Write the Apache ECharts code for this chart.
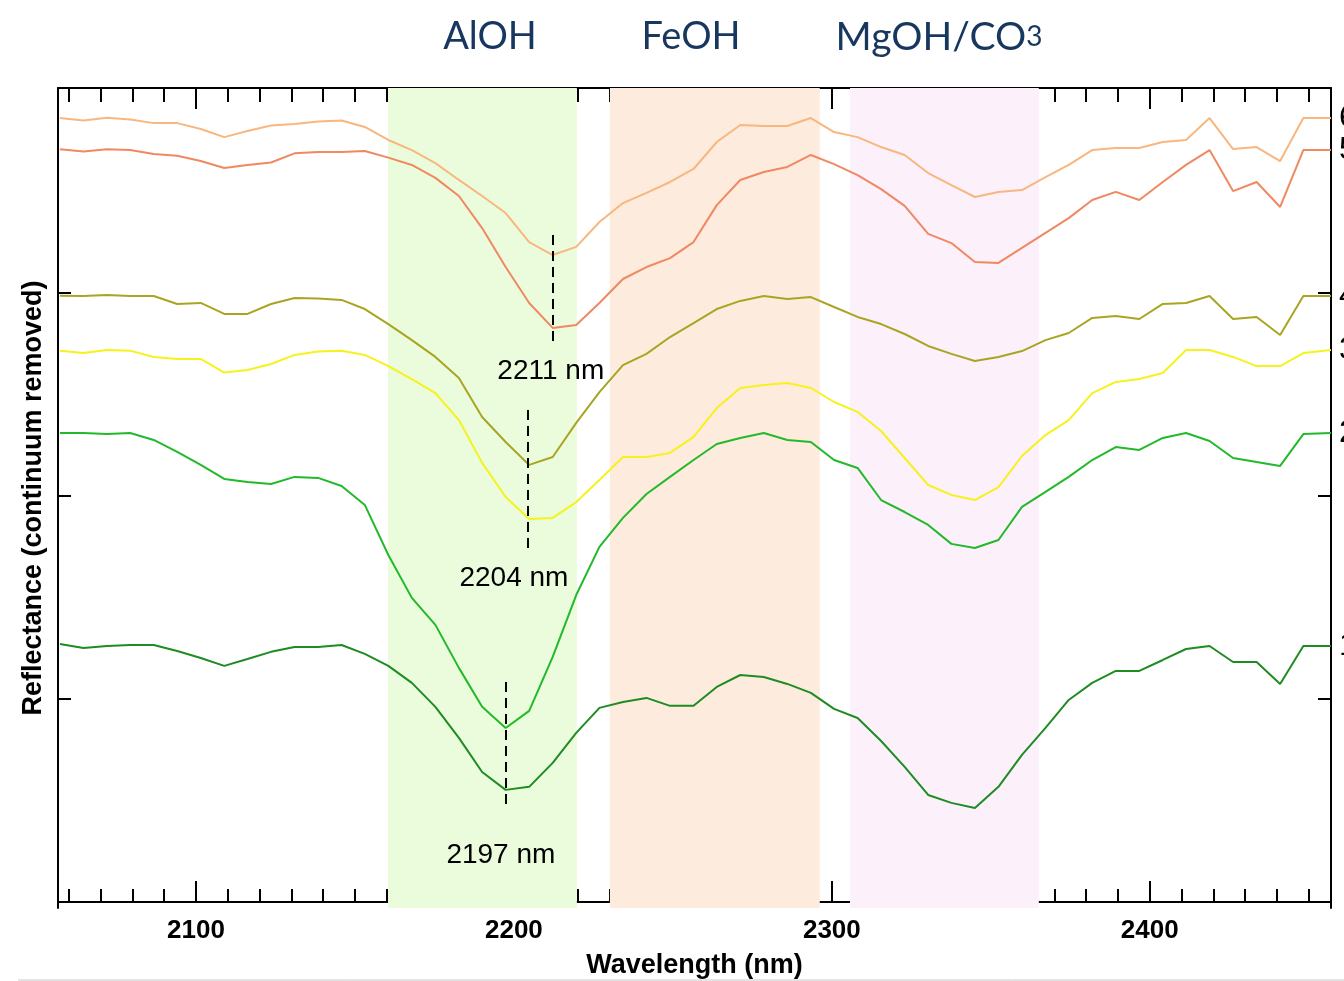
<!DOCTYPE html>
<html>
<head>
<meta charset="utf-8">
<script src="https://cdn.jsdelivr.net/npm/echarts@6/dist/echarts.min.js"></script>
<style>
  html, body { margin: 0; padding: 0; background: #fff; }
  #chart { width: 1344px; height: 981px; }
</style>
</head>
<body>
<div id="chart"></div>
<script>
// wavelengths (nm) of the spectral samples
const wavelengths = [
  2057.2, 2064.6, 2072.0, 2079.3, 2086.7, 2094.1, 2101.5, 2108.9, 2116.2, 2123.6,
  2131.0, 2138.4, 2145.8, 2153.1, 2160.5, 2167.9, 2175.3, 2182.7, 2190.0, 2197.4,
  2204.8, 2212.2, 2219.6, 2226.9, 2234.3, 2241.7, 2249.1, 2256.5, 2263.8, 2271.2,
  2278.6, 2286.0, 2293.4, 2300.7, 2308.1, 2315.5, 2322.9, 2330.3, 2337.6, 2345.0,
  2352.4, 2359.8, 2367.2, 2374.5, 2381.9, 2389.3, 2396.7, 2404.1, 2411.4, 2418.8,
  2426.2, 2433.6, 2441.0, 2448.3, 2457.0
]

// continuum removed reflectance, offset for display (spectra 1..6)
const spec1 = [
  1.271, 1.251, 1.261, 1.266, 1.266, 1.236, 1.202, 1.163, 1.197, 1.232,
  1.256, 1.256, 1.266, 1.222, 1.163, 1.079, 0.961, 0.808, 0.640, 0.552,
  0.567, 0.685, 0.833, 0.956, 0.985, 1.005, 0.966, 0.966, 1.059, 1.118,
  1.108, 1.074, 1.030, 0.951, 0.906, 0.793, 0.665, 0.527, 0.488, 0.463,
  0.567, 0.724, 0.857, 0.995, 1.079, 1.138, 1.138, 1.192, 1.246, 1.261,
  1.182, 1.182, 1.074, 1.261, 1.261
]
const spec2 = [
  2.310, 2.310, 2.305, 2.310, 2.276, 2.217, 2.153, 2.084, 2.069, 2.059,
  2.094, 2.089, 2.049, 1.956, 1.709, 1.498, 1.365, 1.153, 0.961, 0.857,
  0.941, 1.207, 1.512, 1.749, 1.892, 2.010, 2.094, 2.177, 2.256, 2.286,
  2.310, 2.276, 2.266, 2.177, 2.138, 1.980, 1.921, 1.857, 1.764, 1.744,
  1.783, 1.946, 2.020, 2.094, 2.177, 2.241, 2.227, 2.286, 2.310, 2.271,
  2.187, 2.167, 2.148, 2.305, 2.310
]
const spec3 = [
  2.716, 2.704, 2.719, 2.716, 2.685, 2.675, 2.675, 2.608, 2.621, 2.650,
  2.695, 2.712, 2.716, 2.695, 2.640, 2.576, 2.507, 2.374, 2.163, 1.995,
  1.887, 1.892, 1.970, 2.079, 2.192, 2.192, 2.212, 2.291, 2.433, 2.532,
  2.547, 2.557, 2.532, 2.463, 2.414, 2.320, 2.187, 2.054, 2.005, 1.980,
  2.044, 2.197, 2.300, 2.374, 2.507, 2.562, 2.576, 2.606, 2.719, 2.719,
  2.685, 2.640, 2.640, 2.704, 2.719
]
const spec4 = [
  2.987, 2.985, 2.990, 2.985, 2.985, 2.946, 2.951, 2.897, 2.897, 2.946,
  2.975, 2.973, 2.966, 2.921, 2.847, 2.768, 2.685, 2.581, 2.389, 2.266,
  2.153, 2.192, 2.360, 2.512, 2.645, 2.700, 2.783, 2.852, 2.921, 2.961,
  2.985, 2.970, 2.980, 2.931, 2.882, 2.847, 2.798, 2.739, 2.700, 2.665,
  2.685, 2.714, 2.768, 2.803, 2.877, 2.887, 2.872, 2.946, 2.951, 2.985,
  2.872, 2.882, 2.793, 2.985, 2.985
]
const spec5 = [
  3.708, 3.697, 3.708, 3.704, 3.685, 3.676, 3.650, 3.616, 3.631, 3.643,
  3.688, 3.695, 3.695, 3.700, 3.667, 3.631, 3.567, 3.478, 3.320, 3.128,
  2.951, 2.828, 2.842, 2.951, 3.069, 3.128, 3.172, 3.251, 3.433, 3.557,
  3.596, 3.621, 3.680, 3.635, 3.581, 3.512, 3.429, 3.291, 3.246, 3.153,
  3.148, 3.222, 3.296, 3.369, 3.458, 3.498, 3.458, 3.547, 3.631, 3.704,
  3.502, 3.547, 3.424, 3.704, 3.704
]
const spec6 = [
  3.862, 3.850, 3.864, 3.855, 3.837, 3.837, 3.808, 3.768, 3.798, 3.825,
  3.833, 3.845, 3.850, 3.818, 3.754, 3.704, 3.640, 3.557, 3.478, 3.394,
  3.251, 3.187, 3.227, 3.350, 3.443, 3.493, 3.547, 3.611, 3.744, 3.828,
  3.823, 3.823, 3.862, 3.793, 3.768, 3.719, 3.680, 3.591, 3.532, 3.473,
  3.498, 3.507, 3.571, 3.631, 3.704, 3.714, 3.714, 3.744, 3.754, 3.862,
  3.709, 3.719, 3.650, 3.862, 3.862
]

const specNames = ['1', '2', '3', '4', '5', '6']
const specColors = ['#1e8c23', '#22b92a', '#f6f21e', '#a9a522', '#f08862', '#f8b77e']

// absorption windows (nm)
const bandNames = ['AlOH', 'FeOH', 'MgOH/CO3']
const bandRanges = [[2160.4, 2219.8], [2230.2, 2296.2], [2305.7, 2365.1]]
const bandColors = ['#ebfcdc', '#fdecdd', '#fcf0fb']

// absorption minima markers: wavelength, dash top, dash bottom, label position
const minimaLabels = ['2211 nm', '2204 nm', '2197 nm']
const minimaX = [2212.2, 2204.4, 2197.4]
const minimaTop = [3.286, 2.424, 1.084]
const minimaBottom = [2.744, 1.719, 0.453]
const minimaTextPos = [[2211.6, 2.616], [2200.0, 1.596], [2195.9, 0.232]]

const majorTicks = [2100, 2200, 2300, 2400]
const minorTicks = []
for (let t = 2060; t <= 2450; t += 10) minorTicks.push(t)

const xMin = 2056.6
const xMax = 2457
const font = "'Liberation Sans', Arial, sans-serif"
const titleColor = '#17375e'

const chart = echarts.init(document.getElementById('chart'))

const allSeries = [spec1, spec2, spec3, spec4, spec5, spec6].map((vals, i) => ({
  name: specNames[i],
  type: 'line',
  xAxisIndex: 0,
  yAxisIndex: 0,
  symbol: 'none',
  silent: true,
  z: 3,
  lineStyle: { color: specColors[i], width: 2 },
  data: vals.map((v, j) => [wavelengths[j], v]),
  endLabel: {
    show: true,
    formatter: '{a}',
    distance: 8,
    color: '#000',
    fontSize: 32,
    fontFamily: font
  }
}))

// band backgrounds
allSeries.push({
  type: 'line',
  data: [],
  silent: true,
  z: 1,
  markArea: {
    silent: true,
    data: bandRanges.map((r, i) => [
      { xAxis: r[0], itemStyle: { color: bandColors[i] } },
      { xAxis: r[1] }
    ])
  }
})

// dashed minima markers
allSeries.push({
  type: 'line',
  data: [],
  silent: true,
  z: 4,
  markLine: {
    silent: true,
    symbol: 'none',
    label: { show: false },
    lineStyle: { color: '#000', width: 2, type: [10, 6] },
    data: minimaX.map((x, i) => [
      { coord: [x, minimaTop[i]] },
      { coord: [x, minimaBottom[i]] }
    ])
  }
})

// minima text
allSeries.push({
  type: 'scatter',
  symbolSize: 1,
  silent: true,
  z: 5,
  itemStyle: { color: 'rgba(0,0,0,0)' },
  data: minimaTextPos.map((p, i) => ({ value: p, name: minimaLabels[i] })),
  label: {
    show: true,
    position: 'inside',
    formatter: '{b}',
    color: '#000',
    opacity: 1,
    textBorderWidth: 0,
    fontSize: 28,
    fontFamily: font
  }
})

const baseX = {
  type: 'value',
  min: xMin,
  max: xMax,
  splitLine: { show: false }
}

chart.setOption({
  animation: false,
  backgroundColor: '#fff',
  grid: { left: 58, right: 13, top: 88, bottom: 73, outerBoundsMode: 'none', containLabel: false },
  xAxis: [
    {
      ...baseX,
      position: 'bottom',
      name: 'Wavelength (nm)',
      nameLocation: 'middle',
      nameGap: 44,
      nameTextStyle: { fontSize: 27, fontWeight: 'bold', color: '#000', fontFamily: font },
      axisLine: { show: true, lineStyle: { color: '#000', width: 2 } },
      axisTick: { show: true, inside: true, length: 21, customValues: majorTicks, lineStyle: { color: '#000', width: 2 } },
      axisLabel: {
        show: true,
        customValues: majorTicks,
        formatter: v => String(v),
        margin: 10,
        fontSize: 26,
        fontWeight: 'bold',
        color: '#000',
        fontFamily: font
      }
    },
    {
      ...baseX,
      position: 'bottom',
      axisLine: { show: false },
      axisTick: { show: true, inside: true, length: 13, customValues: minorTicks, lineStyle: { color: '#000', width: 2 } },
      axisLabel: { show: false }
    },
    {
      ...baseX,
      position: 'top',
      axisLine: { show: true, lineStyle: { color: '#000', width: 2 } },
      axisTick: { show: true, inside: true, length: 21, customValues: majorTicks, lineStyle: { color: '#000', width: 2 } },
      axisLabel: { show: false }
    },
    {
      ...baseX,
      position: 'top',
      axisLine: { show: false },
      axisTick: { show: true, inside: true, length: 14, customValues: minorTicks, lineStyle: { color: '#000', width: 2 } },
      axisLabel: { show: false }
    }
  ],
  yAxis: [
    {
      type: 'value',
      position: 'left',
      min: -0.03,
      max: 4.01,
      name: 'Reflectance (continuum removed)',
      nameLocation: 'middle',
      nameGap: 11,
      nameRotate: 90,
      nameTextStyle: { fontSize: 27, fontWeight: 'bold', color: '#000', fontFamily: font },
      splitLine: { show: false },
      axisLine: { show: true, lineStyle: { color: '#000', width: 2 } },
      axisTick: { show: true, inside: true, length: 13, customValues: [1, 2, 3], lineStyle: { color: '#000', width: 2 } },
      axisLabel: { show: false }
    },
    {
      type: 'value',
      position: 'right',
      min: -0.03,
      max: 4.01,
      splitLine: { show: false },
      axisLine: { show: true, lineStyle: { color: '#000', width: 2 } },
      axisTick: { show: true, inside: true, length: 13, customValues: [1, 2, 3], lineStyle: { color: '#000', width: 2 } },
      axisLabel: { show: false }
    }
  ],
  graphic: [
    {
      type: 'text', x: 490, y: 37,
      style: { text: bandNames[0], fill: titleColor, fontSize: 38, fontFamily: 'Lato', align: 'center', verticalAlign: 'middle' }
    },
    {
      type: 'text', x: 691, y: 37,
      style: { text: bandNames[1], fill: titleColor, fontSize: 38, fontFamily: 'Lato', align: 'center', verticalAlign: 'middle' }
    },
    {
      type: 'text', x: 939, y: 37,
      style: {
        text: '{a|MgOH/CO}{b|3}',
        align: 'center',
        verticalAlign: 'middle',
        rich: {
          a: { fill: titleColor, fontSize: 39, fontFamily: 'Lato' },
          b: { fill: titleColor, fontSize: 28, fontFamily: 'Lato' }
        }
      }
    },
    {
      type: 'line',
      shape: { x1: 18, y1: 980, x2: 1344, y2: 980 },
      style: { stroke: '#c8c8c8', lineWidth: 1 }
    }
  ],
  series: allSeries
})
</script>
</body>
</html>
